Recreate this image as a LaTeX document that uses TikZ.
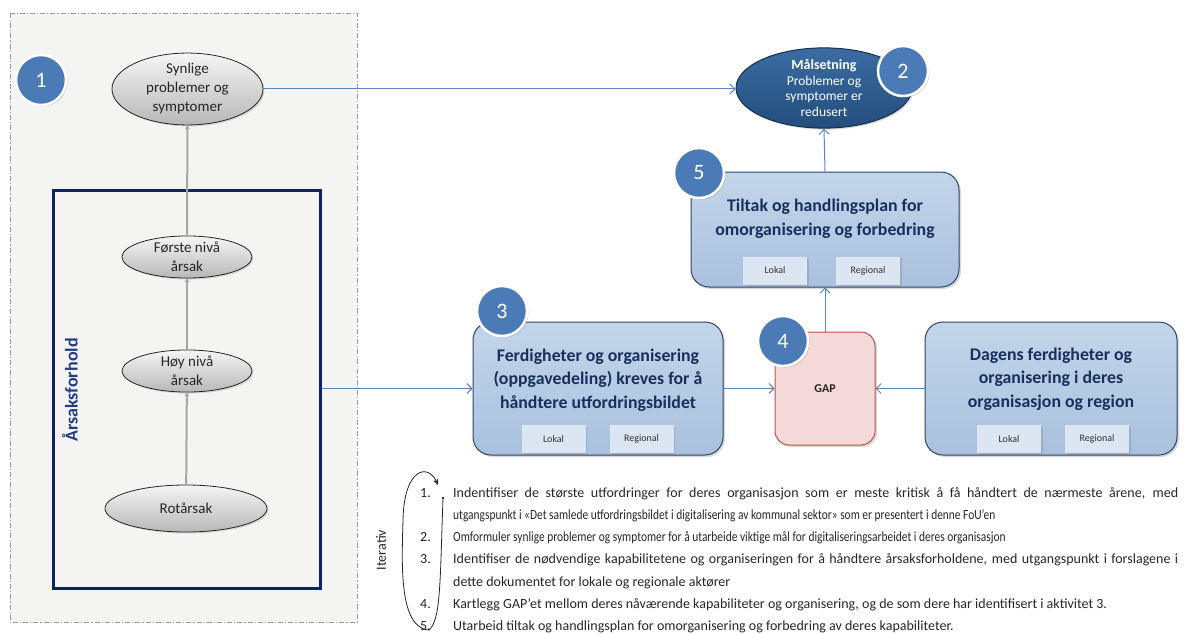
\documentclass[tikz,border=0pt]{standalone}
\usepackage{fontspec}
\setmainfont{Carlito}
\usetikzlibrary{shapes.geometric,arrows.meta,shadows,calc}

\definecolor{framefill}{HTML}{F4F4F2}
\definecolor{framedraw}{HTML}{9A9A9A}
\definecolor{causenavy}{HTML}{0F2463}
\definecolor{causetext}{HTML}{1F3C86}
\definecolor{numblue}{HTML}{4A7BB7}
\definecolor{linkblue}{HTML}{5B84BC}
\definecolor{boxtop}{HTML}{C3D5EA}
\definecolor{boxbot}{HTML}{A9C1DE}
\definecolor{boxdraw}{HTML}{2C4466}
\definecolor{boxtext}{HTML}{17305C}
\definecolor{tagfill}{HTML}{DCE6F2}
\definecolor{gapfill}{HTML}{F3D9D8}
\definecolor{gapdraw}{HTML}{C0504D}
\definecolor{goaltop}{HTML}{3B6CA3}
\definecolor{goalbot}{HTML}{234D7C}
\definecolor{goaldraw}{HTML}{16304F}
\definecolor{causearrow}{HTML}{A6A6A6}

\tikzset{
  causeoval/.style={ellipse, draw=black!85, line width=0.8pt, inner sep=0pt,
    top color=white!96!black, bottom color=black!28, align=center,
    font=\fontsize{15}{19}\selectfont, text=black!85,
    drop shadow={shadow xshift=1.5pt, shadow yshift=-1.5pt, opacity=0.25}},
  numdot/.style={circle, fill=numblue, draw=white, line width=2.5pt,
    minimum size=50pt, inner sep=0pt, text=white,
    font=\fontsize{22}{22}\selectfont,
    drop shadow={shadow xshift=1.5pt, shadow yshift=-1.5pt, opacity=0.35}},
  bluebox/.style={rectangle, rounded corners=18pt, draw=boxdraw, line width=1pt,
    top color=boxtop, bottom color=boxbot,
    drop shadow={shadow xshift=2pt, shadow yshift=-2pt, opacity=0.3}},
  boxtitle/.style={align=center, text=boxtext,
    font=\fontsize{17.8}{23.5}\selectfont\bfseries},
  tag/.style={rectangle, fill=tagfill, minimum width=64pt, minimum height=28pt,
    inner sep=0pt, font=\fontsize{10}{12}\selectfont, text=black!80,
    drop shadow={shadow xshift=1.5pt, shadow yshift=-1.5pt, opacity=0.3}},
  grayup/.style={draw=causearrow, line width=2pt,
    -{Stealth[length=4pt,width=5pt]}},
  bluelink/.style={draw=linkblue, line width=1pt,
    -{Straight Barb[length=5pt,width=10pt]}},
  itemnum/.style={anchor=base east, inner sep=0pt,
    font=\fontsize{14}{16}\selectfont, text=black!85},
  itemline/.style={anchor=base west, inner sep=0pt,
    font=\fontsize{14}{16}\selectfont, text=black!85},
}

\begin{document}
\begin{tikzpicture}[x=1pt, y=-1pt]
\useasboundingbox (0,0) rectangle (1184,634);

% dashed frame around the cause tree
\draw[framedraw, fill=framefill, line width=0.8pt,
      dash pattern=on 5pt off 2pt on 1.2pt off 2pt] (10,13) rectangle (357,622);

% cause-and-effect block
\node[draw=causenavy, line width=3pt, minimum width=267pt, minimum height=398pt,
      inner sep=0pt] (cause) at (186.5,389) {};
\node[rotate=90, text=causetext, font=\fontsize{18}{18}\selectfont\bfseries]
      (causelabel) at (70,390) {Årsaksforhold};

\node[causeoval, minimum width=151pt, minimum height=57pt] (sym) at (187.5,89)
      {Synlige\\problemer og\\symptomer};
\node[causeoval, minimum width=130pt, minimum height=42pt] (first) at (187,257)
      {Første nivå\\årsak};
\node[causeoval, minimum width=130pt, minimum height=42pt] (high) at (187,371)
      {Høy nivå\\årsak};
\node[causeoval, minimum width=162pt, minimum height=47pt] (root) at (186,508.5)
      {Rotårsak};

\draw[grayup] (root) -- (high);
\draw[grayup] (high) -- (first);
\draw[grayup] (first) -- (sym);

% goal
\node[ellipse, draw=goaldraw, line width=1pt, top color=goaltop, bottom color=goalbot,
      minimum width=176pt, minimum height=70pt, inner sep=0pt, align=center,
      text=white, font=\fontsize{13.5}{15.5}\selectfont,
      drop shadow={shadow xshift=1.5pt, shadow yshift=-1.5pt, opacity=0.3}]
      (goal) at (824,88)
      {{\fontsize{14}{15.5}\selectfont\bfseries Målsetning}\\Problemer og\\symptomer er\\redusert};

% action plan
\node[bluebox, minimum width=268pt, minimum height=115pt] (plan) at (825,229.5) {};
\node[boxtitle] (plantitle) at (825,219)
      {Tiltak og handlingsplan for\\omorganisering og forbedring};
\node[tag] (planlok) at (775,270.5) {Lokal};
\node[tag] (planreg) at (868,270.5) {Regional};

% required capabilities
\node[bluebox, minimum width=250pt, minimum height=133pt] (need) at (598,388.5) {};
\node[boxtitle] (needtitle) at (598,380)
      {Ferdigheter og organisering\\(oppgavedeling) kreves for å\\håndtere utfordringsbildet};
\node[tag] (needlok) at (553.5,439) {Lokal};
\node[tag] (needreg) at (641.5,439) {Regional};

% gap
\node[rectangle, rounded corners=14pt, draw=gapdraw, line width=1pt, fill=gapfill,
      minimum width=100pt, minimum height=113pt,
      font=\fontsize{12}{14}\selectfont\bfseries, text=black!85,
      drop shadow={shadow xshift=2pt, shadow yshift=-2pt, opacity=0.3}]
      (gap) at (825,388.5) {GAP};

% current capabilities
\node[bluebox, minimum width=252pt, minimum height=133pt] (now) at (1051,388.5) {};
\node[boxtitle] (nowtitle) at (1051,379)
      {Dagens ferdigheter og\\organisering i deres\\organisasjon og region};
\node[tag] (nowlok) at (1009,439) {Lokal};
\node[tag] (nowreg) at (1097,439) {Regional};

% connectors
\draw[bluelink] (sym.east) -- (sym.east -| goal.west);
\draw[bluelink] (plan.north) -- (goal.south);
\draw[bluelink] (cause.east |- need.west) -- (need.west);
\draw[bluelink] (need.east) -- (gap.west);
\draw[bluelink] (now.west) -- (gap.east);
\draw[bluelink] (gap.north) -- (plan.south);

% step numbers
\node[numdot] (n1) at (41,80) {1};
\node[numdot] (n2) at (903,71) {2};
\node[numdot] (n3) at (502,311) {3};
\node[numdot] (n4) at (783,341) {4};
\node[numdot] (n5) at (699,173) {5};

% iteration loop
\coordinate (loopfoot) at (429,630);
\coordinate (looptip) at (438,485);
\coordinate (stemtop) at (443,498);
\draw[line width=0.8pt, black!85, -{Stealth[length=6pt,width=5pt]}]
      (loopfoot) .. controls (398,628) and (402,560) .. (403,520)
      .. controls (404,468) and (428,463) .. (looptip);
\draw[line width=0.8pt, black!85] (stemtop) .. controls (440,580) and (441,620) .. (loopfoot);
\fill[black!85] (stemtop) circle (1.4pt);
\node[rotate=90, font=\fontsize{14}{16}\selectfont, text=black!85] (iter) at (381,550) {Iterativ};

% numbered activities
\node[itemnum] (i1) at (431,497) {1.};
\node[itemnum] (i2) at (431,541) {2.};
\node[itemnum] (i3) at (431,563) {3.};
\node[itemnum] (i4) at (431,608) {4.};
\node[itemnum] (i5) at (431,630) {5.};

\node[itemline] (t1a) at (453,497) {\makebox[725pt][s]{Indentifiser de største utfordringer for deres organisasjon som er meste kritisk å få håndtert de nærmeste årene, med}};
\node[itemline] (t1b) at (453,519) {\addfontfeature{FakeStretch=0.816}utgangspunkt i «Det samlede utfordringsbildet i digitalisering av kommunal sektor» som er presentert i denne FoU’en};
\node[itemline] (t2) at (453,541) {\addfontfeature{FakeStretch=0.816}Omformuler synlige problemer og symptomer for å utarbeide viktige mål for digitaliseringsarbeidet i deres organisasjon};
\node[itemline] (t3a) at (453,563) {\makebox[725pt][s]{Identifiser de nødvendige kapabilitetene og organiseringen for å håndtere årsaksforholdene, med utgangspunkt i forslagene i}};
\node[itemline] (t3b) at (453,586) {dette dokumentet for lokale og regionale aktører};
\node[itemline] (t4) at (453,608) {Kartlegg GAP’et mellom deres nåværende kapabiliteter og organisering, og de som dere har identifisert i aktivitet 3.};
\node[itemline] (t5) at (453,630) {Utarbeid tiltak og handlingsplan for omorganisering og forbedring av deres kapabiliteter.};
\end{tikzpicture}
\end{document}
